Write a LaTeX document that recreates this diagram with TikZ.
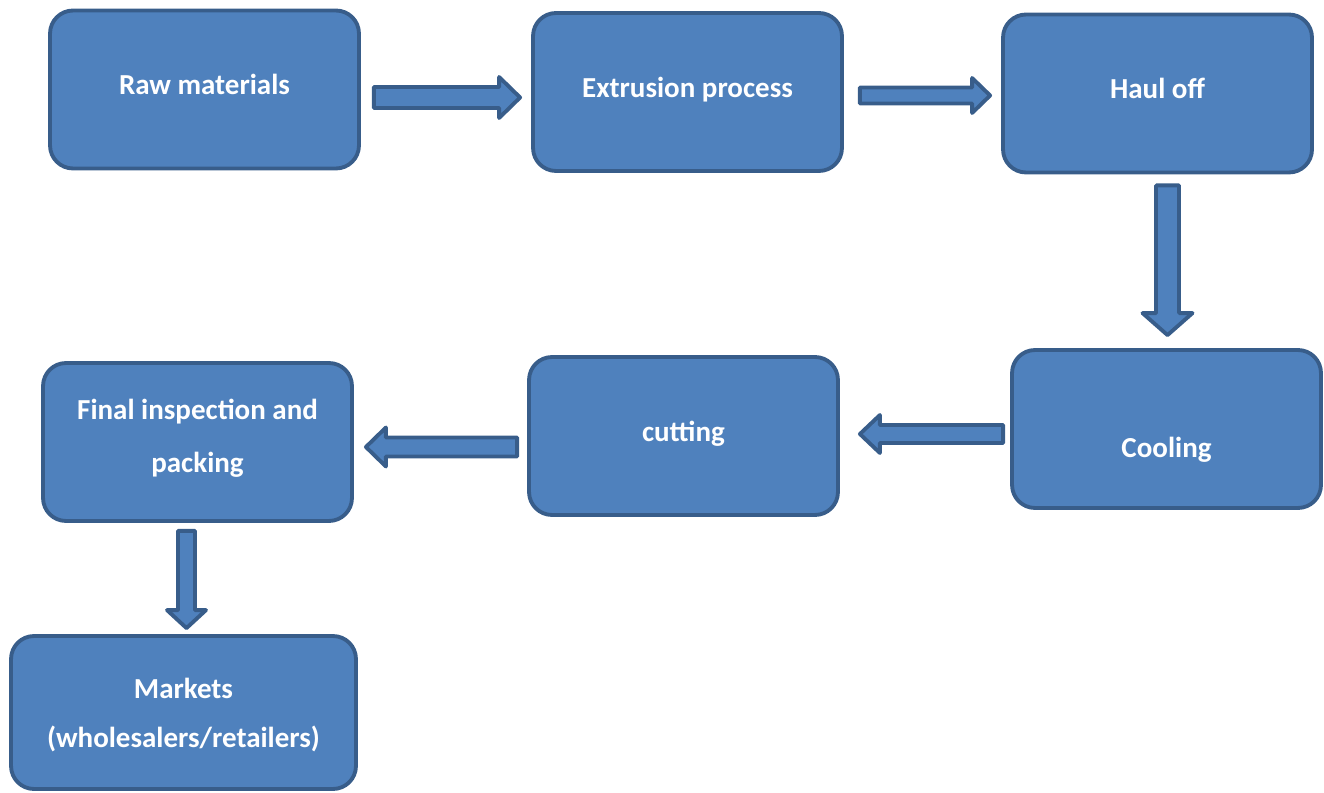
\documentclass[tikz,border=0pt]{standalone}
\usepackage{fontspec}
\setmainfont{Carlito}
\usetikzlibrary{calc}
\definecolor{boxblue}{HTML}{4F81BD}
\definecolor{boxedge}{HTML}{385D8A}
% text lowered/raised inside a box, box size unchanged
\newcommand{\nudge}[2]{\raisebox{#1}[\height][\depth]{#2}}
% block arrow: start, tip, body half width, head half width, head length (px)
\newcommand{\flow}[5]{%
  \coordinate (hb) at ($(#2)!{#5*0.02cm}!(#1)$);
  \draw[flowarrow] ($(#1)!{#3*0.02cm}!90:(#2)$) -- ($(hb)!{#3*0.02cm}!-90:(#1)$)
    -- ($(hb)!{#4*0.02cm}!-90:(#1)$) -- (#2) -- ($(hb)!{#4*0.02cm}!90:(#1)$)
    -- ($(hb)!{#3*0.02cm}!90:(#1)$) -- ($(#1)!{#3*0.02cm}!-90:(#2)$) -- cycle;}

\begin{document}
\begin{tikzpicture}[x=0.02cm, y=-0.02cm,
    stage/.style={draw=boxedge, fill=boxblue, line width=2.2pt, rounded corners=0.46cm,
      minimum width=6.18cm, minimum height=3.16cm, text=white, align=center,
      font=\bfseries\fontsize{16.5}{30}\selectfont},
    flowarrow/.style={draw=boxedge, fill=boxblue, line width=2.2pt, line join=round}]
  \useasboundingbox (0,0) rectangle (1324,793);

  \node[stage] (raw) at (204.5,89.5) {\nudge{0.11cm}{Raw materials}};
  \node[stage] (extr) at (687.5,92) {\nudge{0.05cm}{Extrusion process}};
  \node[stage] (haul) at (1157.5,93.5) {\nudge{0.11cm}{Haul off}};
  \node[stage] (cool) at (1166.5,429) {\nudge{-0.42cm}{Cooling}};
  \node[stage] (cut) at (683.5,436) {\nudge{0.04cm}{cutting}};
  \node[stage] (final) at (197.5,442)
    {\nudge{0.08cm}{Final inspection and}\\\nudge{0.08cm}{packing}};
  \node[stage, minimum width=6.9cm, minimum height=3.06cm] (mkt) at (183.5,712.5)
    {\nudge{-0.08cm}{Markets}\\\nudge{-0.02cm}{(wholesalers/retailers)}};

  % arrow ends
  \coordinate (a1s) at ($(raw.east)+(13,8)$);
  \coordinate (a1t) at ($(extr.west)+(-11,5.5)$);
  \coordinate (a2s) at ($(extr.east)+(16,3.5)$);
  \coordinate (a2t) at ($(haul.west)+(-11,2)$);
  \coordinate (a3s) at ($(haul.south)+(10,11)$);
  \coordinate (a3t) at ($(cool.north)+(1,-13)$);
  \coordinate (a4s) at ($(cool.west)+(-7,5)$);
  \coordinate (a4t) at ($(cut.east)+(20,-2)$);
  \coordinate (a5s) at ($(cut.west)+(-10,11)$);
  \coordinate (a5t) at ($(final.east)+(12,5)$);
  \coordinate (a6s) at ($(final.south)+(-11,8)$);
  \coordinate (a6t) at ($(mkt.north)+(3,-6)$);

  \flow{a1s}{a1t}{10.5}{20.5}{21}
  \flow{a2s}{a2t}{8}{17.5}{18}
  \flow{a3s}{a3t}{11.5}{25}{22}
  \flow{a4s}{a4t}{9}{19}{20}
  \flow{a5s}{a5t}{9.5}{19.5}{20}
  \flow{a6s}{a6t}{8.5}{19.5}{18}
\end{tikzpicture}
\end{document}
